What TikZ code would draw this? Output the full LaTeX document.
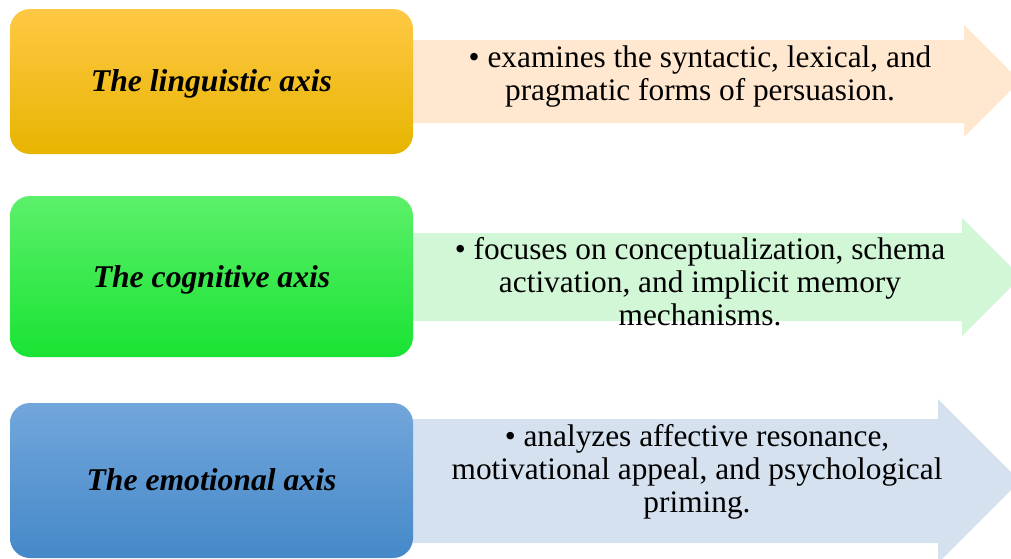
\documentclass[tikz,border=0pt]{standalone}
\usepackage{fontspec}
\setmainfont{Liberation Serif}
\begin{document}
\begin{tikzpicture}[x=0.75pt,y=-0.75pt,
  axisbox/.style={rounded corners=15pt, minimum width=302.25pt, inner sep=0pt},
  title/.style={font=\fontsize{23.75}{26}\selectfont\bfseries\itshape, anchor=base},
  body/.style={font=\fontsize{23.5}{24.4}\selectfont, align=center, anchor=base, inner sep=0pt}]
\definecolor{peach}{HTML}{FFE8CF}
\definecolor{mint}{HTML}{D1F7D6}
\definecolor{pale}{HTML}{D5E1EF}
\definecolor{yT}{HTML}{FFC845}\definecolor{yM}{HTML}{FFC000}\definecolor{yB}{HTML}{E7B500}
\definecolor{gT}{HTML}{5CF06A}\definecolor{gM}{HTML}{22E83A}\definecolor{gB}{HTML}{19E333}
\definecolor{bT}{HTML}{72A6DB}\definecolor{bM}{HTML}{4E95D8}\definecolor{bB}{HTML}{4589C9}
\useasboundingbox (0,0) rectangle (1011,558);
\clip (0,0) rectangle (1011,558);
% arrows
\fill[peach] (400,40) -- (964,40) -- (964,25) -- (1020,81) -- (964,137) -- (964,123) -- (400,123) -- cycle;
\fill[mint] (400,233) -- (962,233) -- (962,218) -- (1021,277) -- (962,336) -- (962,321) -- (400,321) -- cycle;
\fill[pale] (400,419) -- (938,419) -- (938,399) -- (1020,481) -- (938,563) -- (938,543) -- (400,543) -- cycle;
% boxes
\node[axisbox, minimum height=108.75pt, top color=yT, middle color=yM, bottom color=yB] (b1) at (211.5,81.5) {};
\node[axisbox, minimum height=120.75pt, top color=gT, middle color=gM, bottom color=gB] (b2) at (211.5,276.5) {};
\node[axisbox, minimum height=116.25pt, top color=bT, middle color=bM, bottom color=bB] (b3) at (211.5,480.5) {};
\node[title] (t1) at (211.5,91) {The linguistic axis};
\node[title] (t2) at (211.5,287) {The cognitive axis};
\node[title] (t3) at (211.5,490) {The emotional axis};
% texts
\node[body] (d1) at (700,100) {\textbullet{} examines the syntactic, lexical, and\\pragmatic forms of persuasion.};
\node[body] (d2) at (700,325) {\textbullet{} focuses on conceptualization, schema\\activation, and implicit memory\\mechanisms.};
\node[body] (d3) at (697,512) {\textbullet{} analyzes affective resonance,\\motivational appeal, and psychological\\priming.};
\end{tikzpicture}
\end{document}
